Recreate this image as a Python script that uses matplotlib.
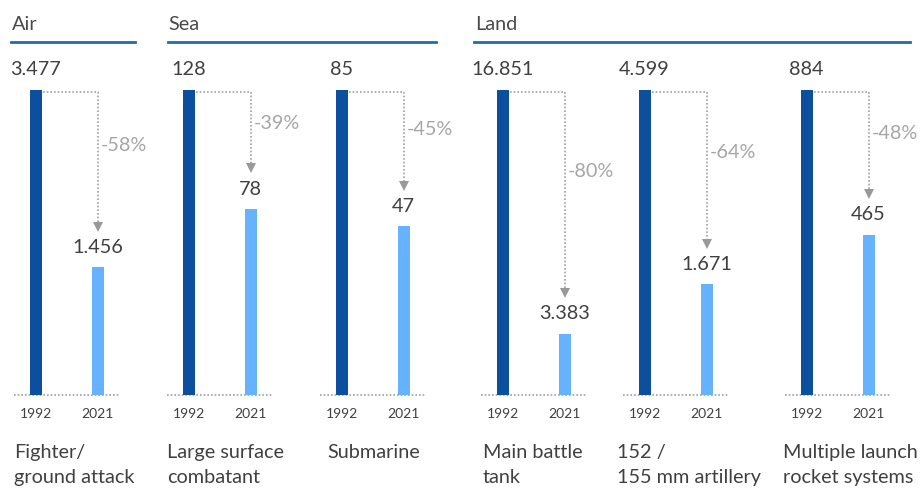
import matplotlib
matplotlib.use("Agg")
import matplotlib.pyplot as plt
from matplotlib.lines import Line2D

plt.rcParams['font.family'] = ['Lato', 'DejaVu Sans']

# ---- data ----
categories = ["Fighter/\nground attack", "Large surface\ncombatant", "Submarine",
              "Main battle\ntank", "152 /\n155 mm artillery", "Multiple launch\nrocket systems"]
values_1992 = [3477, 128, 85, 16851, 4599, 884]
values_2021 = [1456, 78, 47, 3383, 1671, 465]
labels_1992 = ["3.477", "128", "85", "16.851", "4.599", "884"]
labels_2021 = ["1.456", "78", "47", "3.383", "1.671", "465"]
pct_labels = ["-58%", "-39%", "-45%", "-80%", "-64%", "-48%"]
years = ["1992", "2021"]
groups = ["Air", "Sea", "Land"]

# ---- layout ----
W, H = 921, 488
fig = plt.figure(figsize=(W / 100, H / 100), dpi=100)
panel_left_px = [14, 167, 320, 481, 623, 785]
cat_left_px = [14, 167, 327, 483, 617, 783]
panel_w_px = 106
base_px, top_px = 395, 90
unit_px = 62.0
x0_px = 21.5

dark = "#0B4F9E"
light = "#66B2FF"
txt = "#404040"
grey = "#A6A6A6"
dot = "#A0A0A0"
hdr_line = "#1F6EA3"
FS = 14.3

def fx(px):
    return px / W

def fy(py):
    return 1 - py / H

for i in range(6):
    left = panel_left_px[i]
    ax = fig.add_axes([fx(left), fy(base_px), panel_w_px / W, (base_px - top_px) / H])
    ax.set_xlim(-x0_px / unit_px, (panel_w_px - x0_px) / unit_px)
    ax.set_ylim(0, 1)
    ax.axis('off')
    v0 = values_1992[i]
    r = values_2021[i] / v0
    bw = 12 / unit_px
    ax.bar([0, 1], [1.0, r], width=bw, color=[dark, light], zorder=3)
    # baseline dotted
    ax.plot(ax.get_xlim(), [0, 0], color=dot, lw=1.2, ls=(0, (1, 1.2)), zorder=2, clip_on=False)
    # value labels
    ax.annotate(labels_1992[i], (0, 1.0), xytext=(0, 15), textcoords='offset points',
                ha='center', va='center', fontsize=FS, color=txt, annotation_clip=False)
    ax.annotate(labels_2021[i], (1, r), xytext=(0, 14.5), textcoords='offset points',
                ha='center', va='center', fontsize=FS, color=txt, annotation_clip=False)
    # dotted arrow path
    py = 2 / 305
    ytop = 1.0 - py
    ytip = r + 37 / 305
    ax.plot([bw / 2 + 0.02, 1, 1], [ytop, ytop, ytip + 0.02], color=dot, lw=1.2,
            ls=(0, (1, 1.2)), zorder=2, clip_on=False)
    ax.plot([1], [ytip + 0.012], marker='v', color="#999999", markersize=7,
            markeredgewidth=0, clip_on=False, zorder=4)
    ylab = ytop - 0.39 * (ytop - ytip)
    ax.text(1 + 3 / unit_px, ylab, pct_labels[i], ha='left', va='center',
            fontsize=FS, color=grey)
    # years
    for xi, yr in enumerate(years):
        ax.annotate(yr, (xi, 0), xytext=(0, -14), textcoords='offset points',
                    ha='center', va='center', fontsize=10, color=txt, annotation_clip=False)
    # category label
    fig.text(fx(cat_left_px[i]), fy(444), categories[i], ha='left', va='top', fontsize=FS,
             color=txt, linespacing=1.6)

# group headers
hdr_x = [12, 168, 475]
line_spans = [(11, 135), (168, 436), (474, 910)]
for g, hx, (a, b) in zip(groups, hdr_x, line_spans):
    fig.text(fx(hx), fy(24), g, ha='left', va='center', fontsize=FS, color="#4A4A4A")
    fig.add_artist(Line2D([fx(a), fx(b)], [fy(42), fy(42)], color=hdr_line, lw=2.0))

fig.savefig("out.png", dpi=100, facecolor='white')
